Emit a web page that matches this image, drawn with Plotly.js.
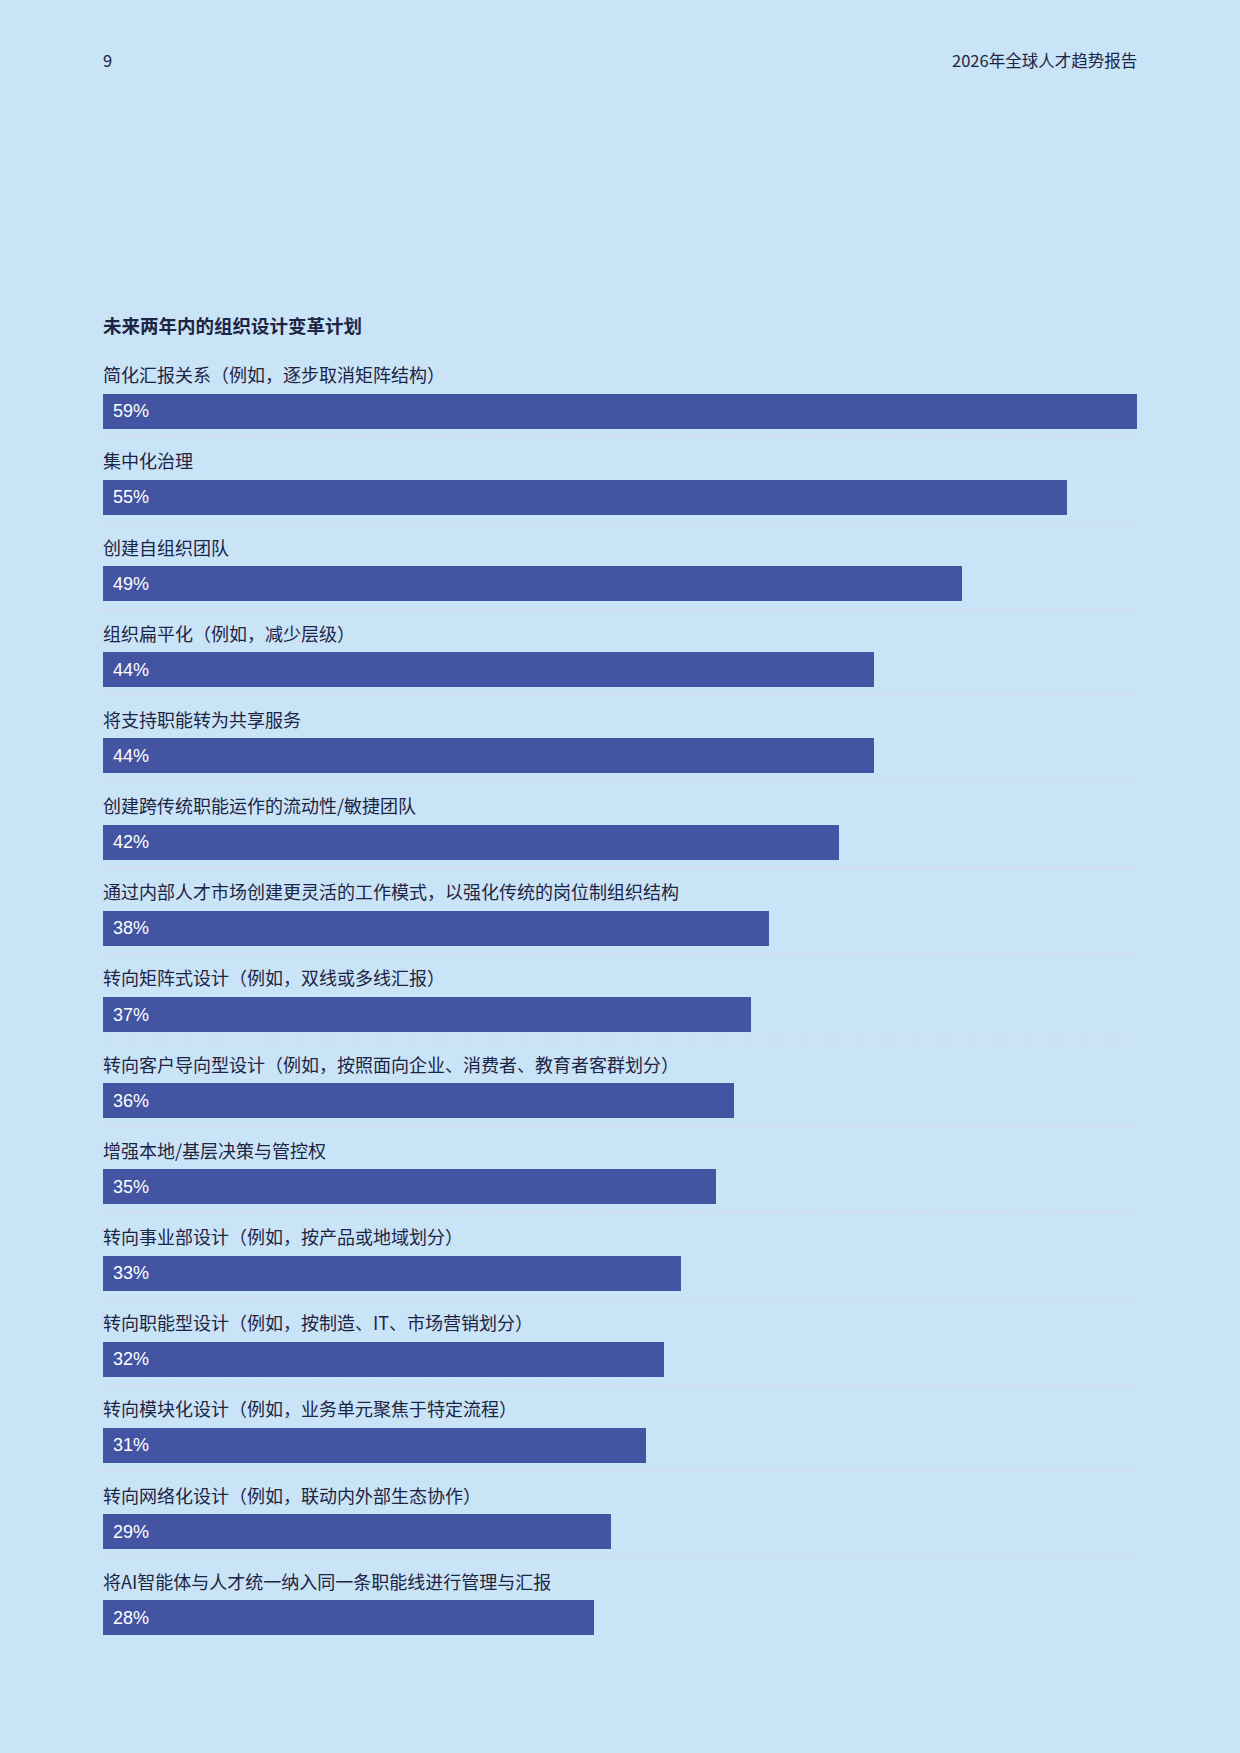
<!DOCTYPE html>
<html lang="zh">
<head>
    <meta charset="UTF-8">
    <title>未来两年内的组织设计变革计划</title>
    <script src="https://cdn.plot.ly/plotly-3.0.1.min.js"></script>
    <style>
        html, body { margin: 0; padding: 0; background: #C9E3F7; }
        #chart { width: 1240px; height: 1753px; }
    </style>
</head>
<body>
<div id="chart"></div>
<script>
    // 数据
    let categories = [
        "简化汇报关系（例如，逐步取消矩阵结构）",
        "集中化治理",
        "创建自组织团队",
        "组织扁平化（例如，减少层级）",
        "将支持职能转为共享服务",
        "创建跨传统职能运作的流动性/敏捷团队",
        "通过内部人才市场创建更灵活的工作模式，以强化传统的岗位制组织结构",
        "转向矩阵式设计（例如，双线或多线汇报）",
        "转向客户导向型设计（例如，按照面向企业、消费者、教育者客群划分）",
        "增强本地/基层决策与管控权",
        "转向事业部设计（例如，按产品或地域划分）",
        "转向职能型设计（例如，按制造、IT、市场营销划分）",
        "转向模块化设计（例如，业务单元聚焦于特定流程）",
        "转向网络化设计（例如，联动内外部生态协作）",
        "将AI智能体与人才统一纳入同一条职能线进行管理与汇报"
    ];
    let values = [59, 55, 49, 44, 44, 42, 38, 37, 36, 35, 33, 32, 31, 29, 28];
    let chartTitle = "未来两年内的组织设计变革计划";
    let pageNumber = "9";
    let reportName = "2026年全球人才趋势报告";

    let bg = "#C9E3F7";
    let barColor = "#4254A2";
    let textColor = "#1E2544";
    let cjk = "'Noto Sans CJK SC', 'Noto Sans', sans-serif";

    let rows = categories.map((c, i) => i);

    let trace = {
        type: 'bar',
        orientation: 'h',
        x: values,
        y: rows,
        width: 0.406,
        marker: {color: barColor, line: {width: 0}},
        hoverinfo: 'none'
    };

    let annotations = [];
    let shapes = [];

    for (let i = 0; i < categories.length; i++) {
        // 类别标签（在条形上方）
        annotations.push({
            x: 0, xref: 'x', xanchor: 'left',
            y: i - 0.43, yref: 'y', yanchor: 'middle',
            text: categories[i], showarrow: false,
            borderpad: 0, borderwidth: 0,
            font: {family: cjk, size: 18, color: textColor}
        });
        // 百分比（条形内）
        annotations.push({
            x: 0, xref: 'x', xanchor: 'left', xshift: 10,
            y: i, yref: 'y', yanchor: 'middle',
            text: values[i] + '%', showarrow: false,
            borderpad: 0, borderwidth: 0,
            font: {family: "'Liberation Sans', Arial, sans-serif", size: 18, color: '#FFFFFF'}
        });
        // 分隔虚线
        if (i < categories.length - 1) {
            shapes.push({
                type: 'line', xref: 'x', yref: 'y',
                x0: 0, x1: 59, y0: i + 0.296, y1: i + 0.296,
                line: {color: '#D6D9E6', width: 2, dash: '2px,1.5px'}
            });
        }
    }

    annotations.push({
        x: 0, xref: 'x', xanchor: 'left',
        y: -1, yref: 'y', yanchor: 'middle',
        text: '<b>' + chartTitle + '</b>', showarrow: false,
        borderpad: 0, borderwidth: 0,
        font: {family: cjk, size: 18.5, color: textColor}
    });
    annotations.push({
        x: 0, xref: 'paper', xanchor: 'left',
        y: 1.1922, yref: 'paper', yanchor: 'middle',
        text: pageNumber, showarrow: false,
        borderpad: 0, borderwidth: 0,
        font: {family: cjk, size: 16.5, color: textColor}
    });
    annotations.push({
        x: 1, xref: 'paper', xanchor: 'right',
        y: 1.1922, yref: 'paper', yanchor: 'middle',
        text: reportName, showarrow: false,
        borderpad: 0, borderwidth: 0,
        font: {family: cjk, size: 16.5, color: textColor}
    });

    let layout = {
        width: 1240,
        height: 1753,
        margin: {l: 103, r: 103, t: 325, b: 49, pad: 0},
        paper_bgcolor: bg,
        plot_bgcolor: bg,
        showlegend: false,
        bargap: 0,
        xaxis: {range: [0, 59], visible: false, fixedrange: true},
        yaxis: {range: [categories.length, -1], visible: false, fixedrange: true},
        annotations: annotations,
        shapes: shapes
    };

    Plotly.newPlot('chart', [trace], layout, {displayModeBar: false, staticPlot: true});
</script>
</body>
</html>
